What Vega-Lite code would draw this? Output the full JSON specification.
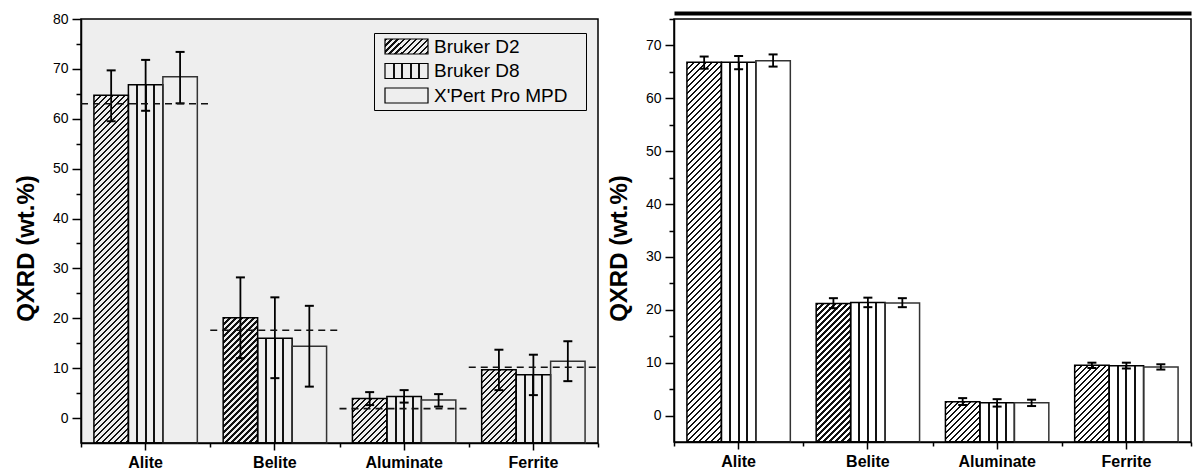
{
  "$schema": "https://vega.github.io/schema/vega-lite/v6.json",
  "background": "white",
  "padding": {"left": 13, "top": 11, "right": 0, "bottom": 0},
  "spacing": 6,
  "params": [
    {"name": "diagStops", "value": [
      {"offset":0,"color":"#111"},{"offset":0.004,"color":"#111"},{"offset":0.004,"color":"transparent"},
      {"offset":0.01,"color":"transparent"},{"offset":0.01,"color":"#111"},{"offset":0.014,"color":"#111"},{"offset":0.014,"color":"transparent"},
      {"offset":0.02,"color":"transparent"},{"offset":0.02,"color":"#111"},{"offset":0.024,"color":"#111"},{"offset":0.024,"color":"transparent"},
      {"offset":0.03,"color":"transparent"},{"offset":0.03,"color":"#111"},{"offset":0.034,"color":"#111"},{"offset":0.034,"color":"transparent"},
      {"offset":0.04,"color":"transparent"},{"offset":0.04,"color":"#111"},{"offset":0.044,"color":"#111"},{"offset":0.044,"color":"transparent"},
      {"offset":0.05,"color":"transparent"},{"offset":0.05,"color":"#111"},{"offset":0.054,"color":"#111"},{"offset":0.054,"color":"transparent"},
      {"offset":0.06,"color":"transparent"},{"offset":0.06,"color":"#111"},{"offset":0.064,"color":"#111"},{"offset":0.064,"color":"transparent"},
      {"offset":0.07,"color":"transparent"},{"offset":0.07,"color":"#111"},{"offset":0.074,"color":"#111"},{"offset":0.074,"color":"transparent"},
      {"offset":0.08,"color":"transparent"},{"offset":0.08,"color":"#111"},{"offset":0.084,"color":"#111"},{"offset":0.084,"color":"transparent"},
      {"offset":0.09,"color":"transparent"},{"offset":0.09,"color":"#111"},{"offset":0.094,"color":"#111"},{"offset":0.094,"color":"transparent"},
      {"offset":0.10,"color":"transparent"},{"offset":0.10,"color":"#111"},{"offset":0.104,"color":"#111"},{"offset":0.104,"color":"transparent"},
      {"offset":0.11,"color":"transparent"},{"offset":0.11,"color":"#111"},{"offset":0.114,"color":"#111"},{"offset":0.114,"color":"transparent"},
      {"offset":0.12,"color":"transparent"},{"offset":0.12,"color":"#111"},{"offset":0.124,"color":"#111"},{"offset":0.124,"color":"transparent"},
      {"offset":0.13,"color":"transparent"},{"offset":0.13,"color":"#111"},{"offset":0.134,"color":"#111"},{"offset":0.134,"color":"transparent"},
      {"offset":0.14,"color":"transparent"},{"offset":0.14,"color":"#111"},{"offset":0.144,"color":"#111"},{"offset":0.144,"color":"transparent"},
      {"offset":0.15,"color":"transparent"},{"offset":0.15,"color":"#111"},{"offset":0.154,"color":"#111"},{"offset":0.154,"color":"transparent"},
      {"offset":0.16,"color":"transparent"},{"offset":0.16,"color":"#111"},{"offset":0.164,"color":"#111"},{"offset":0.164,"color":"transparent"},
      {"offset":0.17,"color":"transparent"},{"offset":0.17,"color":"#111"},{"offset":0.174,"color":"#111"},{"offset":0.174,"color":"transparent"},
      {"offset":0.18,"color":"transparent"},{"offset":0.18,"color":"#111"},{"offset":0.184,"color":"#111"},{"offset":0.184,"color":"transparent"},
      {"offset":0.19,"color":"transparent"},{"offset":0.19,"color":"#111"},{"offset":0.194,"color":"#111"},{"offset":0.194,"color":"transparent"},
      {"offset":0.20,"color":"transparent"},{"offset":0.20,"color":"#111"},{"offset":0.204,"color":"#111"},{"offset":0.204,"color":"transparent"},
      {"offset":0.21,"color":"transparent"},{"offset":0.21,"color":"#111"},{"offset":0.214,"color":"#111"},{"offset":0.214,"color":"transparent"},
      {"offset":0.22,"color":"transparent"},{"offset":0.22,"color":"#111"},{"offset":0.224,"color":"#111"},{"offset":0.224,"color":"transparent"},
      {"offset":0.23,"color":"transparent"},{"offset":0.23,"color":"#111"},{"offset":0.234,"color":"#111"},{"offset":0.234,"color":"transparent"},
      {"offset":0.24,"color":"transparent"},{"offset":0.24,"color":"#111"},{"offset":0.244,"color":"#111"},{"offset":0.244,"color":"transparent"},
      {"offset":0.25,"color":"transparent"},{"offset":0.25,"color":"#111"},{"offset":0.254,"color":"#111"},{"offset":0.254,"color":"transparent"},
      {"offset":0.26,"color":"transparent"},{"offset":0.26,"color":"#111"},{"offset":0.264,"color":"#111"},{"offset":0.264,"color":"transparent"},
      {"offset":0.27,"color":"transparent"},{"offset":0.27,"color":"#111"},{"offset":0.274,"color":"#111"},{"offset":0.274,"color":"transparent"},
      {"offset":0.28,"color":"transparent"},{"offset":0.28,"color":"#111"},{"offset":0.284,"color":"#111"},{"offset":0.284,"color":"transparent"},
      {"offset":0.29,"color":"transparent"},{"offset":0.29,"color":"#111"},{"offset":0.294,"color":"#111"},{"offset":0.294,"color":"transparent"},
      {"offset":0.30,"color":"transparent"},{"offset":0.30,"color":"#111"},{"offset":0.304,"color":"#111"},{"offset":0.304,"color":"transparent"},
      {"offset":0.31,"color":"transparent"},{"offset":0.31,"color":"#111"},{"offset":0.314,"color":"#111"},{"offset":0.314,"color":"transparent"},
      {"offset":0.32,"color":"transparent"},{"offset":0.32,"color":"#111"},{"offset":0.324,"color":"#111"},{"offset":0.324,"color":"transparent"},
      {"offset":0.33,"color":"transparent"},{"offset":0.33,"color":"#111"},{"offset":0.334,"color":"#111"},{"offset":0.334,"color":"transparent"},
      {"offset":0.34,"color":"transparent"},{"offset":0.34,"color":"#111"},{"offset":0.344,"color":"#111"},{"offset":0.344,"color":"transparent"},
      {"offset":0.35,"color":"transparent"},{"offset":0.35,"color":"#111"},{"offset":0.354,"color":"#111"},{"offset":0.354,"color":"transparent"},
      {"offset":0.36,"color":"transparent"},{"offset":0.36,"color":"#111"},{"offset":0.364,"color":"#111"},{"offset":0.364,"color":"transparent"},
      {"offset":0.37,"color":"transparent"},{"offset":0.37,"color":"#111"},{"offset":0.374,"color":"#111"},{"offset":0.374,"color":"transparent"},
      {"offset":0.38,"color":"transparent"},{"offset":0.38,"color":"#111"},{"offset":0.384,"color":"#111"},{"offset":0.384,"color":"transparent"},
      {"offset":0.39,"color":"transparent"},{"offset":0.39,"color":"#111"},{"offset":0.394,"color":"#111"},{"offset":0.394,"color":"transparent"},
      {"offset":0.40,"color":"transparent"},{"offset":0.40,"color":"#111"},{"offset":0.404,"color":"#111"},{"offset":0.404,"color":"transparent"},
      {"offset":0.41,"color":"transparent"},{"offset":0.41,"color":"#111"},{"offset":0.414,"color":"#111"},{"offset":0.414,"color":"transparent"},
      {"offset":0.42,"color":"transparent"},{"offset":0.42,"color":"#111"},{"offset":0.424,"color":"#111"},{"offset":0.424,"color":"transparent"},
      {"offset":0.43,"color":"transparent"},{"offset":0.43,"color":"#111"},{"offset":0.434,"color":"#111"},{"offset":0.434,"color":"transparent"},
      {"offset":0.44,"color":"transparent"},{"offset":0.44,"color":"#111"},{"offset":0.444,"color":"#111"},{"offset":0.444,"color":"transparent"},
      {"offset":0.45,"color":"transparent"},{"offset":0.45,"color":"#111"},{"offset":0.454,"color":"#111"},{"offset":0.454,"color":"transparent"},
      {"offset":0.46,"color":"transparent"},{"offset":0.46,"color":"#111"},{"offset":0.464,"color":"#111"},{"offset":0.464,"color":"transparent"},
      {"offset":0.47,"color":"transparent"},{"offset":0.47,"color":"#111"},{"offset":0.474,"color":"#111"},{"offset":0.474,"color":"transparent"},
      {"offset":0.48,"color":"transparent"},{"offset":0.48,"color":"#111"},{"offset":0.484,"color":"#111"},{"offset":0.484,"color":"transparent"},
      {"offset":0.49,"color":"transparent"},{"offset":0.49,"color":"#111"},{"offset":0.494,"color":"#111"},{"offset":0.494,"color":"transparent"},
      {"offset":0.50,"color":"transparent"},{"offset":0.50,"color":"#111"},{"offset":0.504,"color":"#111"},{"offset":0.504,"color":"transparent"},
      {"offset":0.51,"color":"transparent"},{"offset":0.51,"color":"#111"},{"offset":0.514,"color":"#111"},{"offset":0.514,"color":"transparent"},
      {"offset":0.52,"color":"transparent"},{"offset":0.52,"color":"#111"},{"offset":0.524,"color":"#111"},{"offset":0.524,"color":"transparent"},
      {"offset":0.53,"color":"transparent"},{"offset":0.53,"color":"#111"},{"offset":0.534,"color":"#111"},{"offset":0.534,"color":"transparent"},
      {"offset":0.54,"color":"transparent"},{"offset":0.54,"color":"#111"},{"offset":0.544,"color":"#111"},{"offset":0.544,"color":"transparent"},
      {"offset":0.55,"color":"transparent"},{"offset":0.55,"color":"#111"},{"offset":0.554,"color":"#111"},{"offset":0.554,"color":"transparent"},
      {"offset":0.56,"color":"transparent"},{"offset":0.56,"color":"#111"},{"offset":0.564,"color":"#111"},{"offset":0.564,"color":"transparent"},
      {"offset":0.57,"color":"transparent"},{"offset":0.57,"color":"#111"},{"offset":0.574,"color":"#111"},{"offset":0.574,"color":"transparent"},
      {"offset":0.58,"color":"transparent"},{"offset":0.58,"color":"#111"},{"offset":0.584,"color":"#111"},{"offset":0.584,"color":"transparent"},
      {"offset":0.59,"color":"transparent"},{"offset":0.59,"color":"#111"},{"offset":0.594,"color":"#111"},{"offset":0.594,"color":"transparent"},
      {"offset":0.60,"color":"transparent"},{"offset":0.60,"color":"#111"},{"offset":0.604,"color":"#111"},{"offset":0.604,"color":"transparent"},
      {"offset":0.61,"color":"transparent"},{"offset":0.61,"color":"#111"},{"offset":0.614,"color":"#111"},{"offset":0.614,"color":"transparent"},
      {"offset":0.62,"color":"transparent"},{"offset":0.62,"color":"#111"},{"offset":0.624,"color":"#111"},{"offset":0.624,"color":"transparent"},
      {"offset":0.63,"color":"transparent"},{"offset":0.63,"color":"#111"},{"offset":0.634,"color":"#111"},{"offset":0.634,"color":"transparent"},
      {"offset":0.64,"color":"transparent"},{"offset":0.64,"color":"#111"},{"offset":0.644,"color":"#111"},{"offset":0.644,"color":"transparent"},
      {"offset":0.65,"color":"transparent"},{"offset":0.65,"color":"#111"},{"offset":0.654,"color":"#111"},{"offset":0.654,"color":"transparent"},
      {"offset":0.66,"color":"transparent"},{"offset":0.66,"color":"#111"},{"offset":0.664,"color":"#111"},{"offset":0.664,"color":"transparent"},
      {"offset":0.67,"color":"transparent"},{"offset":0.67,"color":"#111"},{"offset":0.674,"color":"#111"},{"offset":0.674,"color":"transparent"},
      {"offset":0.68,"color":"transparent"},{"offset":0.68,"color":"#111"},{"offset":0.684,"color":"#111"},{"offset":0.684,"color":"transparent"},
      {"offset":0.69,"color":"transparent"},{"offset":0.69,"color":"#111"},{"offset":0.694,"color":"#111"},{"offset":0.694,"color":"transparent"}
    ]},
    {"name": "vStops", "value": [
      {"offset":0.221,"color":"transparent"},{"offset":0.221,"color":"#111"},{"offset":0.279,"color":"#111"},{"offset":0.279,"color":"transparent"},
      {"offset":0.471,"color":"transparent"},{"offset":0.471,"color":"#111"},{"offset":0.529,"color":"#111"},{"offset":0.529,"color":"transparent"},
      {"offset":0.721,"color":"transparent"},{"offset":0.721,"color":"#111"},{"offset":0.779,"color":"#111"},{"offset":0.779,"color":"transparent"}
    ]},
    {"name": "vStopsL", "value": [
      {"offset":0.177,"color":"transparent"},{"offset":0.177,"color":"#111"},{"offset":0.223,"color":"#111"},{"offset":0.223,"color":"transparent"},
      {"offset":0.377,"color":"transparent"},{"offset":0.377,"color":"#111"},{"offset":0.423,"color":"#111"},{"offset":0.423,"color":"transparent"},
      {"offset":0.577,"color":"transparent"},{"offset":0.577,"color":"#111"},{"offset":0.623,"color":"#111"},{"offset":0.623,"color":"transparent"},
      {"offset":0.777,"color":"transparent"},{"offset":0.777,"color":"#111"},{"offset":0.823,"color":"#111"},{"offset":0.823,"color":"transparent"}
    ]}
  ],
  "datasets": {
    "left": [
      {"mineral":"Alite","inst":"Bruker D2","v":64.7,"lo":59.5,"hi":69.7},
      {"mineral":"Alite","inst":"Bruker D8","v":66.8,"lo":61.6,"hi":71.8},
      {"mineral":"Alite","inst":"X'Pert Pro MPD","v":68.4,"lo":63.1,"hi":73.4},
      {"mineral":"Belite","inst":"Bruker D2","v":20.1,"lo":12.0,"hi":28.2},
      {"mineral":"Belite","inst":"Bruker D8","v":16.0,"lo":8.0,"hi":24.2},
      {"mineral":"Belite","inst":"X'Pert Pro MPD","v":14.4,"lo":6.3,"hi":22.5},
      {"mineral":"Aluminate","inst":"Bruker D2","v":3.9,"lo":2.6,"hi":5.2},
      {"mineral":"Aluminate","inst":"Bruker D8","v":4.3,"lo":3.1,"hi":5.6},
      {"mineral":"Aluminate","inst":"X'Pert Pro MPD","v":3.6,"lo":2.3,"hi":4.8},
      {"mineral":"Ferrite","inst":"Bruker D2","v":9.7,"lo":5.6,"hi":13.7},
      {"mineral":"Ferrite","inst":"Bruker D8","v":8.7,"lo":4.6,"hi":12.7},
      {"mineral":"Ferrite","inst":"X'Pert Pro MPD","v":11.4,"lo":7.4,"hi":15.4}
    ],
    "leftref": [
      {"mineral":"Alite","ref":63.0},
      {"mineral":"Belite","ref":17.6},
      {"mineral":"Aluminate","ref":1.9},
      {"mineral":"Ferrite","ref":10.2}
    ],
    "right": [
      {"mineral":"Alite","inst":"Bruker D2","v":66.8,"lo":65.6,"hi":67.9},
      {"mineral":"Alite","inst":"Bruker D8","v":66.8,"lo":65.5,"hi":68.0},
      {"mineral":"Alite","inst":"X'Pert Pro MPD","v":67.1,"lo":66.0,"hi":68.3},
      {"mineral":"Belite","inst":"Bruker D2","v":21.2,"lo":20.3,"hi":22.2},
      {"mineral":"Belite","inst":"Bruker D8","v":21.4,"lo":20.5,"hi":22.3},
      {"mineral":"Belite","inst":"X'Pert Pro MPD","v":21.3,"lo":20.5,"hi":22.2},
      {"mineral":"Aluminate","inst":"Bruker D2","v":2.6,"lo":2.0,"hi":3.3},
      {"mineral":"Aluminate","inst":"Bruker D8","v":2.4,"lo":1.7,"hi":3.1},
      {"mineral":"Aluminate","inst":"X'Pert Pro MPD","v":2.4,"lo":1.8,"hi":3.0},
      {"mineral":"Ferrite","inst":"Bruker D2","v":9.5,"lo":9.0,"hi":10.0},
      {"mineral":"Ferrite","inst":"Bruker D8","v":9.4,"lo":8.9,"hi":10.0},
      {"mineral":"Ferrite","inst":"X'Pert Pro MPD","v":9.2,"lo":8.7,"hi":9.7}
    ]
  },
  "config": {
    "font": "Liberation Sans",
    "axis": {"domainColor": "#000", "tickColor": "#000", "labelColor": "#000", "titleColor": "#000", "domainWidth": 1.5, "tickWidth": 1.5, "grid": false, "labelFont": "Liberation Sans", "titleFont": "Liberation Sans"},
    "legend": {"labelFont": "Liberation Sans"}
  },
  "hconcat": [
    {
      "width": 517,
      "height": 424,
      "view": {"stroke": "#000", "strokeWidth": 1.5, "fill": "#eeeeee"},
      "resolve": {"axis": {"x": "independent", "y": "independent"}},
      "layer": [
        {
          "data": {"name": "left"},
          "mark": {"type": "bar", "strokeWidth": 1.5, "fill": {"expr": "datum.inst === 'Bruker D2' ? {gradient: 'linear', x1: 0, y1: 0, x2: 600 * 34.47 / (34.47 * 34.47 + pow((datum.v + 5) * 424 / 85, 2)), y2: 600 * ((datum.v + 5) * 424 / 85) / (34.47 * 34.47 + pow((datum.v + 5) * 424 / 85, 2)), stops: diagStops} : datum.inst === 'Bruker D8' ? {gradient: 'linear', x1: 0, y1: 0, x2: 1, y2: 0, stops: vStops} : 'transparent'"}},
          "encoding": {
            "x": {"field": "mineral", "type": "nominal", "sort": ["Alite", "Belite", "Aluminate", "Ferrite"], "scale": {"paddingInner": 0, "paddingOuter": 0}, "axis": {"orient": "bottom", "title": null, "labelAngle": 0, "labelFontSize": 16, "labelFontWeight": "bold", "tickSize": 7, "labelPadding": 4}},
            "xOffset": {"field": "inst", "type": "nominal", "scale": {"paddingInner": 0, "paddingOuter": 0.375}},
            "y": {"field": "v", "type": "quantitative", "scale": {"domain": [-5, 80], "nice": false, "zero": false}, "axis": {"orient": "left", "values": [0, 10, 20, 30, 40, 50, 60, 70, 80], "tickSize": 9, "labelFontSize": 14, "labelPadding": 4, "title": "QXRD (wt.%)", "titleFontSize": 24, "titleFontWeight": "bold", "titlePadding": 14, "titleY": 229}},
            "y2": {"datum": -5},
            "stroke": {"field": "inst", "type": "nominal", "scale": {"range": ["#000", "#000", "#333"]}, "legend": null}
          }
        },
        {
          "data": {"name": "left"},
          "mark": {"type": "bar", "stroke": "#000", "strokeWidth": 1.2},
          "encoding": {
            "x": {"field": "mineral", "type": "nominal", "sort": ["Alite", "Belite", "Aluminate", "Ferrite"], "axis": null},
            "xOffset": {"field": "inst", "type": "nominal"},
            "y": {"datum": -5, "type": "quantitative", "axis": null},
            "y2": {"datum": -5},
            "fill": {"field": "inst", "type": "nominal", "scale": {"range": [{"expr": "{gradient: 'linear', x1: 0, y1: 0, x2: 12.44, y2: 4.34, stops: diagStops}"}, {"expr": "{gradient: 'linear', x1: 0, y1: 0, x2: 1, y2: 0, stops: vStopsL}"}, "transparent"]}, "legend": {"title": null, "orient": "none", "legendX": 293, "legendY": 14, "symbolType": "M-2.867,-1H2.867V1H-2.867Z", "symbolSize": 225, "symbolStrokeColor": "#000", "symbolStrokeWidth": 1.2, "symbolOffset": 19, "labelFontSize": 19, "labelColor": "#000", "labelOffset": 18, "labelLimit": 300, "labelExpr": "datum.label + '⠀'", "rowPadding": 3.5, "padding": 4, "strokeColor": "#000"}}
          }
        },
        {
          "data": {"name": "left"},
          "mark": {"type": "rule", "strokeWidth": 1.8, "color": "#000"},
          "encoding": {
            "x": {"field": "mineral", "type": "nominal", "sort": ["Alite", "Belite", "Aluminate", "Ferrite"], "axis": {"orient": "bottom", "tickBand": "extent", "labels": false, "domain": false, "tickSize": 4, "title": null}},
            "xOffset": {"field": "inst", "type": "nominal"},
            "y": {"field": "lo", "type": "quantitative", "axis": {"orient": "left", "values": [5, 15, 25, 35, 45, 55, 65, 75], "labels": false, "domain": false, "tickSize": 5, "title": null}},
            "y2": {"field": "hi"}
          }
        },
        {
          "data": {"name": "left"},
          "mark": {"type": "tick", "size": 9, "thickness": 2, "color": "#000", "opacity": 1},
          "encoding": {
            "x": {"field": "mineral", "type": "nominal", "sort": ["Alite", "Belite", "Aluminate", "Ferrite"], "axis": null},
            "xOffset": {"field": "inst", "type": "nominal"},
            "y": {"field": "lo", "type": "quantitative", "axis": null}
          }
        },
        {
          "data": {"name": "left"},
          "mark": {"type": "tick", "size": 9, "thickness": 2, "color": "#000", "opacity": 1},
          "encoding": {
            "x": {"field": "mineral", "type": "nominal", "sort": ["Alite", "Belite", "Aluminate", "Ferrite"], "axis": null},
            "xOffset": {"field": "inst", "type": "nominal"},
            "y": {"field": "hi", "type": "quantitative", "axis": null}
          }
        },
        {
          "data": {"name": "leftref"},
          "mark": {"type": "rule", "strokeWidth": 1.6, "color": "#111", "strokeDash": [7, 5]},
          "encoding": {
            "x": {"field": "mineral", "type": "nominal", "sort": ["Alite", "Belite", "Aluminate", "Ferrite"], "bandPosition": 0, "axis": null},
            "x2": {"field": "mineral", "bandPosition": 1},
            "y": {"field": "ref", "type": "quantitative", "axis": null}
          }
        }
      ]
    },
    {
      "width": 517,
      "height": 423,
      "view": {"stroke": "#000", "strokeWidth": 1.5, "fill": "white"},
      "resolve": {"axis": {"x": "independent", "y": "independent"}},
      "layer": [
        {
          "data": {"name": "right"},
          "mark": {"type": "bar", "strokeWidth": 1.5, "fill": {"expr": "datum.inst === 'Bruker D2' ? {gradient: 'linear', x1: 0, y1: 0, x2: 600 * 34.47 / (34.47 * 34.47 + pow((datum.v + 5) * 423 / 80, 2)), y2: 600 * ((datum.v + 5) * 423 / 80) / (34.47 * 34.47 + pow((datum.v + 5) * 423 / 80, 2)), stops: diagStops} : datum.inst === 'Bruker D8' ? {gradient: 'linear', x1: 0, y1: 0, x2: 1, y2: 0, stops: vStops} : 'transparent'"}},
          "encoding": {
            "x": {"field": "mineral", "type": "nominal", "sort": ["Alite", "Belite", "Aluminate", "Ferrite"], "scale": {"paddingInner": 0, "paddingOuter": 0}, "axis": {"orient": "bottom", "title": null, "labelAngle": 0, "labelFontSize": 16, "labelFontWeight": "bold", "tickSize": 7, "labelPadding": 4}},
            "xOffset": {"field": "inst", "type": "nominal", "scale": {"paddingInner": 0, "paddingOuter": 0.375}},
            "y": {"field": "v", "type": "quantitative", "scale": {"domain": [-5, 75], "nice": false, "zero": false}, "axis": {"orient": "left", "values": [0, 10, 20, 30, 40, 50, 60, 70], "tickSize": 9, "labelFontSize": 14, "labelPadding": 4, "title": "QXRD (wt.%)", "titleFontSize": 24, "titleFontWeight": "bold", "titlePadding": 14, "titleY": 229}},
            "y2": {"datum": -5},
            "stroke": {"field": "inst", "type": "nominal", "scale": {"range": ["#000", "#000", "#333"]}, "legend": null}
          }
        },
        {
          "data": {"name": "right"},
          "mark": {"type": "bar", "stroke": "#000", "strokeWidth": 1.2},
          "encoding": {
            "x": {"field": "mineral", "type": "nominal", "sort": ["Alite", "Belite", "Aluminate", "Ferrite"], "axis": null},
            "xOffset": {"field": "inst", "type": "nominal"},
            "y": {"datum": -5, "type": "quantitative", "axis": null},
            "y2": {"datum": -5},
            "fill": {"field": "inst", "type": "nominal", "scale": {"range": [{"expr": "{gradient: 'linear', x1: 0, y1: 0, x2: 12.44, y2: 4.34, stops: diagStops}"}, {"expr": "{gradient: 'linear', x1: 0, y1: 0, x2: 1, y2: 0, stops: vStopsL}"}, "transparent"]}, "legend": {"title": null, "orient": "none", "legendX": 289, "legendY": 14, "symbolType": "M-2.867,-1H2.867V1H-2.867Z", "symbolSize": 225, "symbolStrokeColor": "#000", "symbolStrokeWidth": 1.2, "symbolOffset": 19, "labelFontSize": 19, "labelColor": "#000", "labelOffset": 18, "labelLimit": 300, "labelExpr": "datum.label + '⠀'", "rowPadding": 3.5, "padding": 4, "strokeColor": "#555"}}
          }
        },
        {
          "data": {"name": "right"},
          "mark": {"type": "rule", "strokeWidth": 1.8, "color": "#000"},
          "encoding": {
            "x": {"field": "mineral", "type": "nominal", "sort": ["Alite", "Belite", "Aluminate", "Ferrite"], "axis": {"orient": "bottom", "tickBand": "extent", "labels": false, "domain": false, "tickSize": 4, "title": null}},
            "xOffset": {"field": "inst", "type": "nominal"},
            "y": {"field": "lo", "type": "quantitative", "axis": {"orient": "left", "values": [5, 15, 25, 35, 45, 55, 65, 75], "labels": false, "domain": false, "tickSize": 5, "title": null}},
            "y2": {"field": "hi"}
          }
        },
        {
          "data": {"name": "right"},
          "mark": {"type": "tick", "size": 9, "thickness": 2, "color": "#000", "opacity": 1},
          "encoding": {
            "x": {"field": "mineral", "type": "nominal", "sort": ["Alite", "Belite", "Aluminate", "Ferrite"], "axis": {"orient": "top", "offset": 6, "domainWidth": 4, "domainColor": "#000", "ticks": false, "labels": false, "title": null}},
            "xOffset": {"field": "inst", "type": "nominal"},
            "y": {"field": "lo", "type": "quantitative", "axis": null}
          }
        },
        {
          "data": {"name": "right"},
          "mark": {"type": "tick", "size": 9, "thickness": 2, "color": "#000", "opacity": 1},
          "encoding": {
            "x": {"field": "mineral", "type": "nominal", "sort": ["Alite", "Belite", "Aluminate", "Ferrite"], "axis": null},
            "xOffset": {"field": "inst", "type": "nominal"},
            "y": {"field": "hi", "type": "quantitative", "axis": null}
          }
        }
      ]
    }
  ]
}
